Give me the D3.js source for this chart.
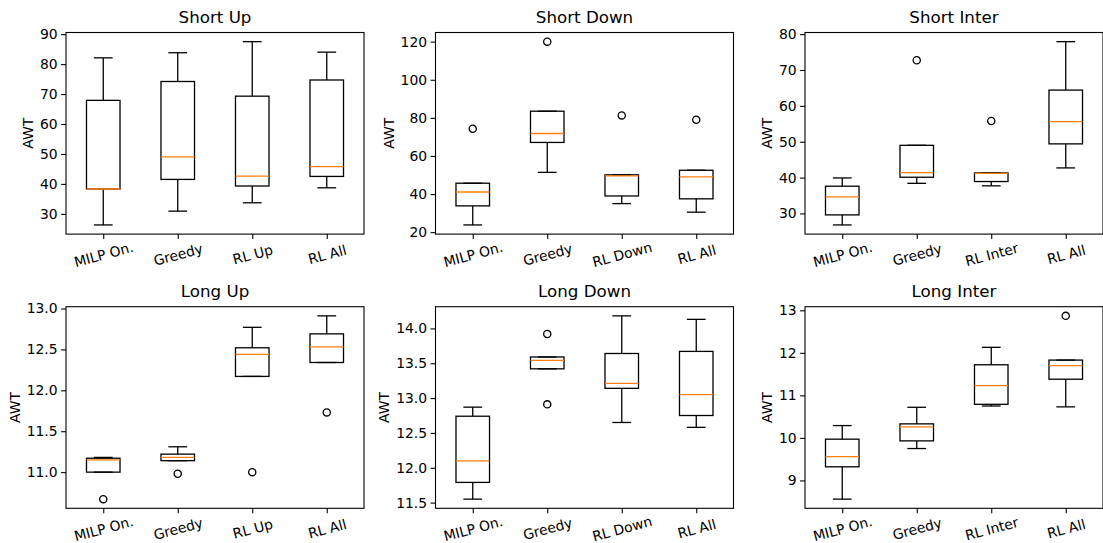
<!DOCTYPE html>
<html>
<head>
<meta charset="utf-8">
<script src="https://cdn.jsdelivr.net/npm/d3@7"></script>
<style>
  body { margin: 0; background: #fff; }
  svg { display: block; font-family: "DejaVu Sans", sans-serif; }
  .title { font-size: 16.7px; }
  .ylabel { font-size: 13.9px; }
</style>
</head>
<body>
<div id="chart"></div>
<script>
// box stats per category: [lower whisker, q1, median, q3, upper whisker]
const titles = ["Short Up", "Short Down", "Short Inter", "Long Up", "Long Down", "Long Inter"];

const catsUp = ["MILP On.", "Greedy", "RL Up", "RL All"];
const catsDown = ["MILP On.", "Greedy", "RL Down", "RL All"];
const catsInter = ["MILP On.", "Greedy", "RL Inter", "RL All"];

const shortUpStats = [
  [26.3, 38.3, 38.3, 67.9, 82.1],
  [30.9, 41.5, 49.0, 74.2, 83.8],
  [33.7, 39.3, 42.6, 69.3, 87.5],
  [38.7, 42.5, 45.8, 74.7, 84.0]
];
const shortUpOutliers = [[], [], [], []];

const shortDownStats = [
  [23.8, 33.8, 41.1, 45.7, 45.7],
  [51.4, 67.1, 71.8, 83.5, 83.5],
  [35.0, 39.0, 49.6, 50.1, 50.1],
  [30.5, 37.5, 49.0, 52.5, 52.5]
];
const shortDownOutliers = [[74.3], [120.0], [81.3], [79.0]];

const shortInterStats = [
  [26.8, 29.6, 34.6, 37.6, 39.9],
  [38.4, 40.1, 41.4, 49.0, 49.0],
  [37.7, 38.9, 41.2, 41.3, 41.3],
  [42.7, 49.4, 55.6, 64.4, 77.9]
];
const shortInterOutliers = [[], [72.7], [55.8], []];

const longUpStats = [
  [11.00, 11.00, 11.15, 11.17, 11.18],
  [11.14, 11.14, 11.18, 11.22, 11.31],
  [12.17, 12.17, 12.44, 12.52, 12.77],
  [12.34, 12.34, 12.53, 12.69, 12.91]
];
const longUpOutliers = [[10.67], [10.98], [11.00], [11.73]];

const longDownStats = [
  [11.55, 11.79, 12.10, 12.74, 12.87],
  [13.42, 13.42, 13.54, 13.59, 13.59],
  [12.65, 13.14, 13.21, 13.64, 14.18],
  [12.58, 12.75, 13.05, 13.67, 14.13]
];
const longDownOutliers = [[], [13.92, 12.91], [], []];

const longInterStats = [
  [8.56, 9.32, 9.56, 9.97, 10.29],
  [9.75, 9.93, 10.26, 10.33, 10.72],
  [10.75, 10.79, 11.23, 11.72, 12.13],
  [10.73, 11.38, 11.70, 11.83, 11.83]
];
const longInterOutliers = [[], [], [], [12.87]];

const shortUpTicks = [30, 40, 50, 60, 70, 80, 90];
const shortDownTicks = [20, 40, 60, 80, 100, 120];
const shortInterTicks = [30, 40, 50, 60, 70, 80];
const longUpTicks = [11.0, 11.5, 12.0, 12.5, 13.0];
const longDownTicks = [11.5, 12.0, 12.5, 13.0, 13.5, 14.0];
const longInterTicks = [9, 10, 11, 12, 13];

const panels = [
  {title: titles[0], cats: catsUp, stats: shortUpStats, out: shortUpOutliers, ticks: shortUpTicks, fmt: d3.format("d")},
  {title: titles[1], cats: catsDown, stats: shortDownStats, out: shortDownOutliers, ticks: shortDownTicks, fmt: d3.format("d")},
  {title: titles[2], cats: catsInter, stats: shortInterStats, out: shortInterOutliers, ticks: shortInterTicks, fmt: d3.format("d")},
  {title: titles[3], cats: catsUp, stats: longUpStats, out: longUpOutliers, ticks: longUpTicks, fmt: d3.format(".1f")},
  {title: titles[4], cats: catsDown, stats: longDownStats, out: longDownOutliers, ticks: longDownTicks, fmt: d3.format(".1f")},
  {title: titles[5], cats: catsInter, stats: longInterStats, out: longInterOutliers, ticks: longInterTicks, fmt: d3.format("d")}
];

const W = 1103, H = 543;
const colLeft = [66, 435.5, 805];
const rowTop = [32.5, 306.7];
const pw = 298, ph = 201.6;
const FONT = "DejaVu Sans, sans-serif";

const svg = d3.select("#chart").append("svg")
  .attr("width", W).attr("height", H);

panels.forEach((p, i) => {
  const left = colLeft[i % 3], top = rowTop[Math.floor(i / 3)];
  const g = svg.append("g").attr("transform", `translate(${left},${top})`);

  // matplotlib style autoscale: data extent + 5% margin
  const all = p.stats.flat().concat(p.out.flat());
  const lo = d3.min(all), hi = d3.max(all), m = (hi - lo) * 0.05;
  const y = d3.scaleLinear().domain([lo - m, hi + m]).range([ph, 0]);
  const x = d3.scaleLinear().domain([0.5, p.cats.length + 0.5]).range([0, pw]);
  const bw = x(1.45) - x(1), cw = x(1.225) - x(1);

  // y axis
  const ya = g.append("g")
    .call(d3.axisLeft(y).tickValues(p.ticks).tickFormat(p.fmt).tickSize(4.9).tickPadding(3.5))
    .attr("font-size", 13.9).attr("font-family", FONT);
  ya.select(".domain").remove();
  ya.selectAll(".tick line").attr("stroke", "#000").attr("stroke-width", 1.1);
  ya.selectAll(".tick text").attr("fill", "#000");

  // x axis
  const xa = g.append("g").attr("transform", `translate(0,${ph})`)
    .call(d3.axisBottom(x).tickValues(d3.range(1, p.cats.length + 1)).tickSize(4.9).tickFormat(""))
    .attr("font-size", 13.9).attr("font-family", FONT);
  xa.select(".domain").remove();
  xa.selectAll(".tick line").attr("stroke", "#000").attr("stroke-width", 1.1);
  xa.selectAll(".tick").append("text")
    .attr("transform", "translate(0,20.5) rotate(-15)")
    .attr("text-anchor", "middle")
    .attr("dy", "0.35em")
    .attr("fill", "#000")
    .text((d, j) => p.cats[j]);

  // boxes
  const bx = g.selectAll(".box").data(p.stats).enter().append("g")
    .attr("class", "box")
    .attr("transform", (d, j) => `translate(${x(j + 1)},0)`);
  const ln = {stroke: "#000", "stroke-width": 1.3, fill: "none"};
  const apply = (sel, o) => { Object.entries(o).forEach(([k, v]) => sel.attr(k, v)); return sel; };

  apply(bx.append("line"), ln).attr("x1", 0).attr("x2", 0)
    .attr("y1", d => y(d[0])).attr("y2", d => y(d[1]));
  apply(bx.append("line"), ln).attr("x1", 0).attr("x2", 0)
    .attr("y1", d => y(d[3])).attr("y2", d => y(d[4]));
  apply(bx.append("line"), ln).attr("x1", -cw / 2 - 1).attr("x2", cw / 2 + 1)
    .attr("y1", d => y(d[0])).attr("y2", d => y(d[0]));
  apply(bx.append("line"), ln).attr("x1", -cw / 2 - 1).attr("x2", cw / 2 + 1)
    .attr("y1", d => y(d[4])).attr("y2", d => y(d[4]));
  apply(bx.append("rect"), ln).attr("x", -bw / 2).attr("width", bw)
    .attr("y", d => y(d[3])).attr("height", d => y(d[1]) - y(d[3]));
  bx.append("line").attr("stroke", "#ff7f0e").attr("stroke-width", 1.3)
    .attr("x1", -bw / 2).attr("x2", bw / 2)
    .attr("y1", d => y(d[2])).attr("y2", d => y(d[2]));

  // outliers
  bx.each(function(d, j) {
    d3.select(this).selectAll("circle").data(p.out[j]).enter().append("circle")
      .attr("cx", 0).attr("cy", v => y(v)).attr("r", 3.6)
      .attr("fill", "none").attr("stroke", "#000").attr("stroke-width", 1.3);
  });

  // frame
  g.append("rect").attr("width", pw).attr("height", ph)
    .attr("fill", "none").attr("stroke", "#000").attr("stroke-width", 1.1);

  // title
  g.append("text").attr("class", "title")
    .attr("x", pw / 2).attr("y", -10)
    .attr("text-anchor", "middle")
    .text(p.title);

  // y label, placed left of the tick labels
  const bb = ya.node().getBBox();
  g.append("text").attr("class", "ylabel")
    .attr("transform", `translate(${bb.x - 7},${ph / 2}) rotate(-90)`)
    .attr("text-anchor", "middle")
    .text("AWT");
});
</script>
</body>
</html>
